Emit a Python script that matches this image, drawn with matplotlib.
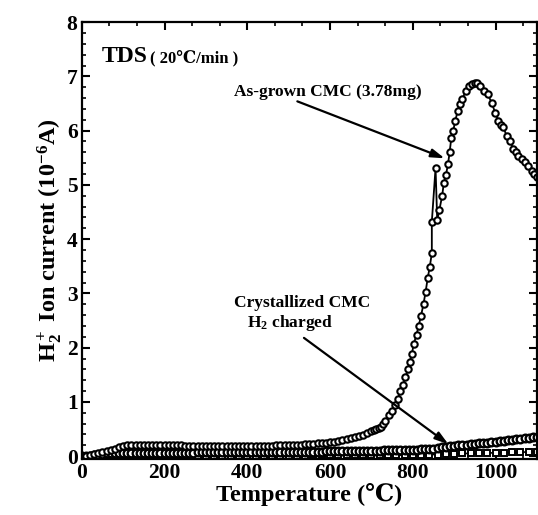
import matplotlib
matplotlib.use('Agg')
import matplotlib.pyplot as plt
from matplotlib.ticker import AutoMinorLocator

### ===========================================================================
# data (temperature in C, current in 1e-6 A)

asgrown_T = [0, 10, 20, 30, 40, 50, 60, 70, 80, 90, 100, 110, 120, 130, 140,
             150, 160, 170, 180, 190, 200, 210, 220, 230, 240, 250, 260, 270,
             280, 290, 300, 310, 320, 330, 340, 350, 360, 370, 380, 390, 400,
             410, 420, 430, 440, 450, 460, 470, 480, 490, 500, 510, 520, 530,
             540, 550, 560, 570, 580, 590, 600, 610, 620, 630, 640, 650, 660,
             670, 680, 690, 700, 706, 712, 718, 722, 728, 734, 742, 750, 758,
             764, 770, 777, 782, 789, 793, 798, 802, 809, 814, 820, 826, 831,
             836, 841, 846, 846, 855, 859, 864, 871, 875, 880, 885, 889, 893,
             898, 902, 909, 913, 920, 928, 937, 944, 950, 956, 963, 971, 981,
             991, 999, 1007, 1013, 1019, 1027, 1035, 1043, 1049, 1055, 1063,
             1071, 1079, 1087, 1094, 1100]
asgrown_I = [0.00, 0.01, 0.02, 0.04, 0.05, 0.07, 0.09, 0.11, 0.14, 0.16, 0.18,
             0.20, 0.21, 0.21, 0.21, 0.21, 0.21, 0.21, 0.21, 0.21, 0.21, 0.21,
             0.20, 0.20, 0.20, 0.19, 0.19, 0.19, 0.19, 0.19, 0.19, 0.18, 0.18,
             0.18, 0.18, 0.18, 0.18, 0.18, 0.18, 0.18, 0.18, 0.18, 0.19, 0.19,
             0.19, 0.19, 0.19, 0.20, 0.20, 0.20, 0.20, 0.20, 0.21, 0.21, 0.22,
             0.22, 0.23, 0.24, 0.24, 0.25, 0.26, 0.27, 0.28, 0.29, 0.31, 0.33,
             0.35, 0.37, 0.39, 0.42, 0.46, 0.48, 0.50, 0.52, 0.54, 0.60, 0.65,
             0.75, 0.84, 0.94, 1.05, 1.20, 1.32, 1.46, 1.60, 1.74, 1.89, 2.06,
             2.24, 2.40, 2.59, 2.81, 3.03, 3.28, 3.49, 3.74, 4.32, 5.31, 4.35,
             4.53, 4.80, 5.04, 5.18, 5.38, 5.60, 5.86, 6.00, 6.17, 6.37, 6.50,
             6.59, 6.73, 6.82, 6.86, 6.88, 6.87, 6.82, 6.73, 6.67, 6.51, 6.33,
             6.18, 6.10, 6.06, 5.90, 5.81, 5.66, 5.60, 5.54, 5.48, 5.42, 5.34,
             5.26, 5.20, 5.15]

cryst_T = [0, 10, 20, 30, 40, 50, 60, 70, 80, 90, 100, 110, 120, 130, 140, 150,
           160, 170, 180, 190, 200, 210, 220, 230, 240, 250, 260, 270, 280, 290,
           300, 310, 320, 330, 340, 350, 360, 370, 380, 390, 400, 410, 420, 430,
           440, 450, 460, 470, 480, 490, 500, 510, 520, 530, 540, 550, 560, 570,
           580, 590, 600, 610, 620, 630, 640, 650, 660, 670, 680, 690, 700, 710,
           720, 730, 740, 750, 760, 770, 780, 790, 800, 810, 820, 830, 840, 850,
           860, 870, 880, 890, 900, 910, 920, 930, 940, 950, 960, 970, 980, 990,
           1000, 1010, 1020, 1030, 1040, 1050, 1060, 1070, 1080, 1090, 1100]
cryst_I = [0.00, 0.00, 0.01, 0.02, 0.03, 0.04, 0.05, 0.05, 0.06, 0.06, 0.06,
           0.06, 0.06, 0.06, 0.06, 0.06, 0.06, 0.06, 0.06, 0.06, 0.06, 0.06,
           0.06, 0.06, 0.06, 0.06, 0.06, 0.06, 0.07, 0.07, 0.07, 0.07, 0.07,
           0.07, 0.07, 0.07, 0.07, 0.07, 0.07, 0.07, 0.07, 0.07, 0.07, 0.07,
           0.07, 0.07, 0.07, 0.07, 0.08, 0.08, 0.08, 0.08, 0.08, 0.08, 0.08,
           0.08, 0.08, 0.08, 0.08, 0.09, 0.09, 0.09, 0.09, 0.09, 0.09, 0.09,
           0.09, 0.10, 0.10, 0.10, 0.10, 0.10, 0.10, 0.11, 0.11, 0.11, 0.11,
           0.11, 0.12, 0.12, 0.12, 0.12, 0.13, 0.13, 0.14, 0.14, 0.15, 0.16,
           0.17, 0.18, 0.19, 0.20, 0.20, 0.21, 0.22, 0.23, 0.24, 0.24, 0.25,
           0.26, 0.27, 0.28, 0.28, 0.29, 0.30, 0.31, 0.32, 0.33, 0.34, 0.35,
           0.36]

bg_T = [0, 20, 40, 60, 80, 100, 120, 140, 160, 180, 200, 220, 240, 260, 280,
        300, 320, 340, 360, 380, 400, 420, 440, 460, 480, 500, 520, 540, 560,
        580, 600, 620, 640, 660, 680, 700, 720, 740, 760, 780, 800, 820, 840,
        860, 880, 900, 920, 940, 960, 980, 1000, 1020, 1040, 1060, 1080, 1100]
bg_I = [0.00, 0.00, 0.01, 0.01, 0.01, 0.01, 0.01, 0.01, 0.01, 0.01, 0.01, 0.01,
        0.01, 0.01, 0.01, 0.01, 0.01, 0.01, 0.01, 0.01, 0.01, 0.01, 0.01, 0.01,
        0.01, 0.01, 0.01, 0.01, 0.02, 0.02, 0.02, 0.02, 0.02, 0.02, 0.02, 0.02,
        0.02, 0.02, 0.02, 0.02, 0.03, 0.03, 0.03, 0.03, 0.04, 0.04, 0.05, 0.05,
        0.05, 0.06, 0.06, 0.06, 0.07, 0.07, 0.08, 0.08]

x_ticks = [0, 200, 400, 600, 800, 1000]
y_ticks = [0, 1, 2, 3, 4, 5, 6, 7, 8]

### ===========================================================================

serif = ['Liberation Serif', 'DejaVu Serif', 'Noto Sans CJK SC']
params = {'font.family': serif,
          'font.weight': 'bold',
          'mathtext.fontset': 'custom',
          'mathtext.rm': 'Liberation Serif:bold',
          'mathtext.bf': 'Liberation Serif:bold',
          'mathtext.it': 'Liberation Serif:italic:bold',
          'xtick.direction': 'in',
          'ytick.direction': 'in',
          'xtick.top': True,
          'ytick.right': True,
          'xtick.major.width': 1.5,
          'xtick.major.size': 6,
          'xtick.minor.width': 1.2,
          'xtick.minor.size': 3,
          'ytick.major.width': 1.5,
          'ytick.major.size': 6,
          'ytick.minor.width': 1.2,
          'ytick.minor.size': 3,
          'axes.linewidth': 1.6}
plt.rcParams.update(params)

fig = plt.figure(figsize=(5.38, 5.15), dpi=100)
ax = fig.add_axes([0.152, 0.109, 0.846, 0.848])

mk = dict(color='black', markerfacecolor='white', markeredgecolor='black')
ax.plot(bg_T, bg_I, marker='s', markersize=4.5, markeredgewidth=1.4,
        linewidth=1.2, **mk)
ax.plot(cryst_T, cryst_I, marker='o', markersize=5.5, markeredgewidth=1.7,
        linewidth=1.2, **mk)
ax.plot(asgrown_T, asgrown_I, marker='o', markersize=4.6, markeredgewidth=1.5,
        linewidth=1.3, **mk)

ax.set_xlim(0, 1100)
ax.set_ylim(-0.05, 8)
ax.set_xticks(x_ticks)
ax.set_yticks(y_ticks)
ax.xaxis.set_minor_locator(AutoMinorLocator(3))
ax.yaxis.set_minor_locator(AutoMinorLocator(5))
ax.tick_params(labelsize=15.5, pad=3)
for lab in ax.get_xticklabels() + ax.get_yticklabels():
    lab.set_fontweight('bold')

ax.set_xlabel('Temperature (\u2103)', fontsize=17.5, fontweight='bold',
              labelpad=0)
ax.set_ylabel(r'H$\mathregular{_2^+}$ Ion current (10$\mathregular{^{-6}}$A)',
              fontsize=17.5, fontweight='bold', labelpad=2)

ax.text(48, 7.36, 'TDS', fontsize=17, fontweight='bold', va='center',
        ha='left')
ax.text(165, 7.34, '( 20\u2103/min )', fontsize=12, fontweight='bold',
        va='center', ha='left')

arrow = dict(arrowstyle='-|>,head_length=0.8,head_width=0.25', color='black',
             lw=1.6, shrinkA=0, shrinkB=0)
ax.text(594, 6.72, 'As-grown CMC (3.78mg)', fontsize=12.5, fontweight='bold',
        ha='center', va='center')
ax.annotate('', xy=(877, 5.49), xytext=(521, 6.54), arrowprops=arrow)
ax.text(368, 2.82, 'Crystallized CMC', fontsize=12.5, fontweight='bold',
        ha='left', va='center')
ax.text(400, 2.45, r'H$\mathregular{_2}$ charged', fontsize=12.5,
        fontweight='bold', ha='left', va='center')
ax.annotate('', xy=(886, 0.22), xytext=(537, 2.18), arrowprops=arrow)

fig.savefig('out.png', dpi=100)
plt.close(fig)
